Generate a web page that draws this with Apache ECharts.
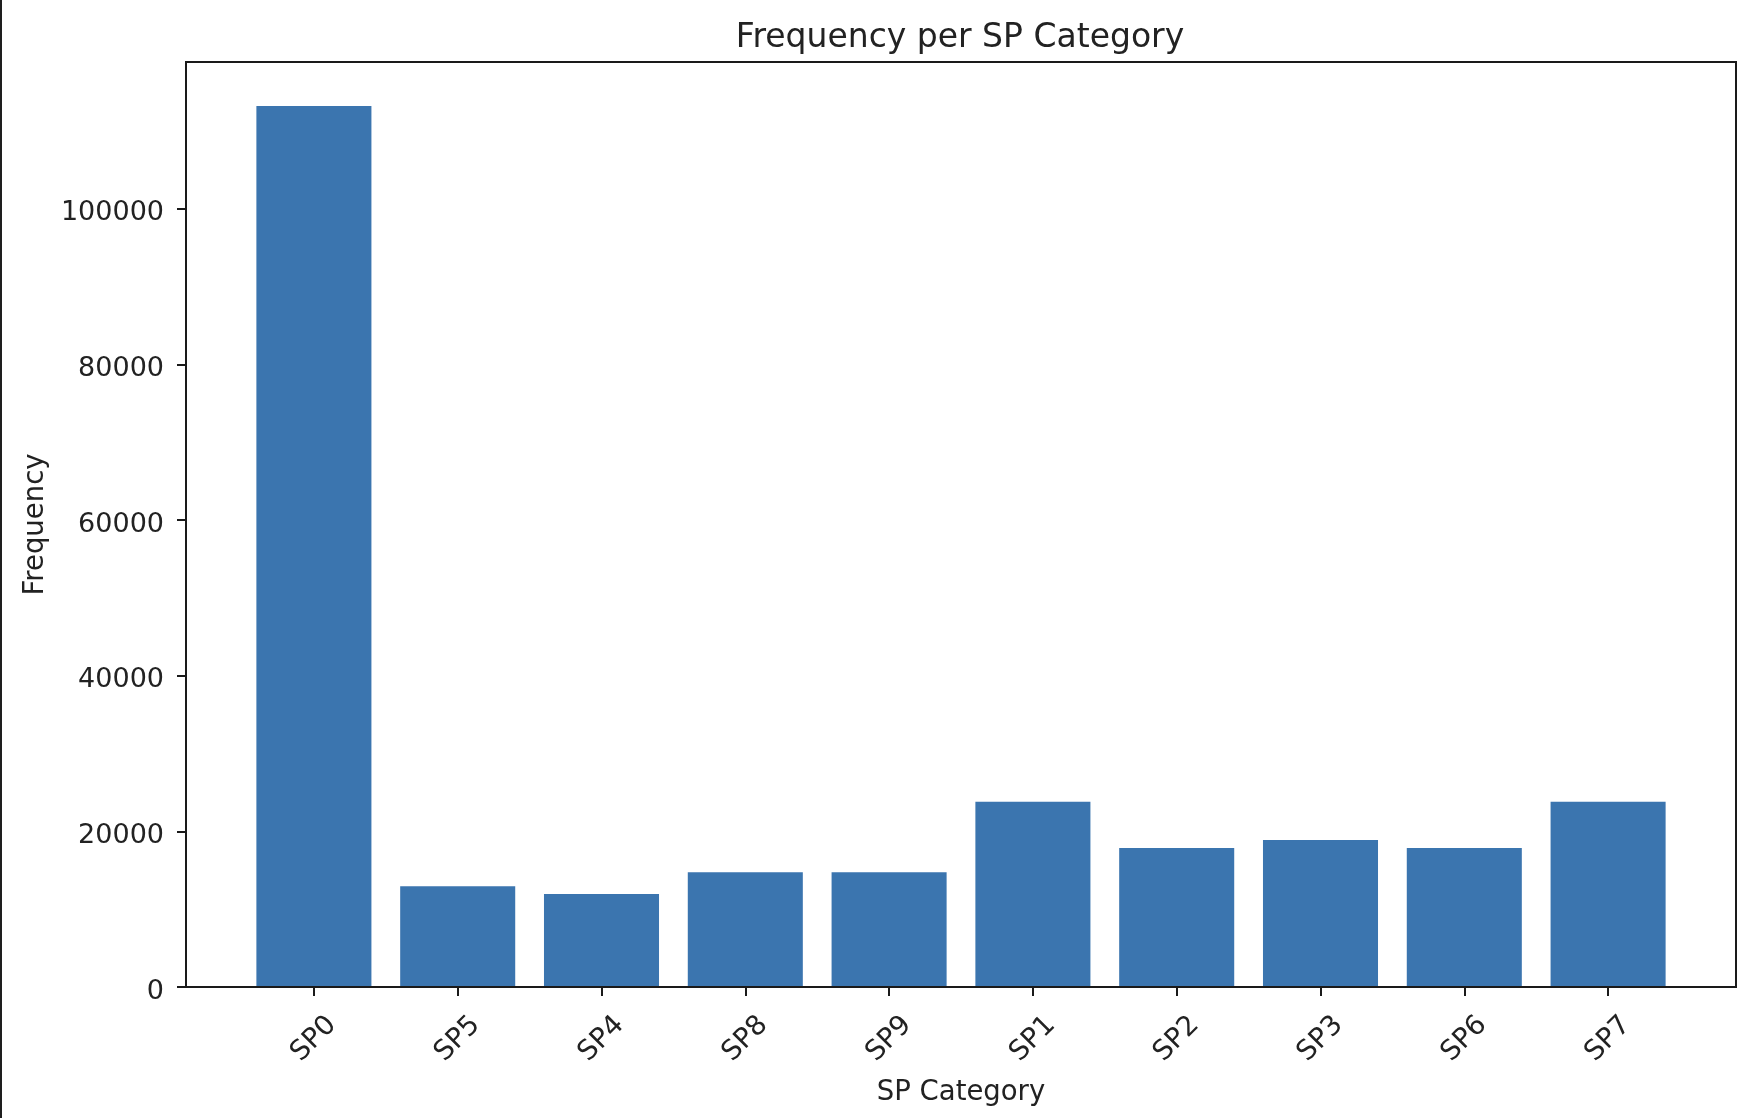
<!DOCTYPE html>
<html>
<head>
<meta charset="utf-8">
<script src="https://cdn.jsdelivr.net/npm/echarts@6/dist/echarts.min.js"></script>
<style>
  html, body { margin: 0; padding: 0; background: #fff; }
  #chart { width: 1748px; height: 1118px; box-sizing: border-box; border-left: 2px solid #1e1e1e; }
</style>
</head>
<body>
<div id="chart"></div>
<script>
// ---- data ----
var categories = ['SP0', 'SP5', 'SP4', 'SP8', 'SP9', 'SP1', 'SP2', 'SP3', 'SP6', 'SP7'];
var frequencies = [113200, 12950, 11950, 14750, 14750, 23800, 17870, 18900, 17870, 23800];
var yTickValues = [0, 20000, 40000, 60000, 80000, 100000];
var titleText = 'Frequency per SP Category';
var xAxisTitle = 'SP Category';
var yAxisTitle = 'Frequency';

// ---- layout (matplotlib-like axes box) ----
var W = 1748, H = 1118;
var frame = { left: 186, right: 12, top: 62, bottom: 131 };
var n = categories.length;
var plotW = W - 2 - frame.left - frame.right;
// matplotlib: bars of width 0.8, 5% margins -> x-limits span (n - 1 + 0.8) * 1.1 units
var unitsSpan = (n - 1 + 0.8) * 1.1;
var unitPx = plotW / unitsSpan;
var sidePad = (unitsSpan - n) / 2 * unitPx;
var yMax = Math.max.apply(null, frequencies) * 1.05;

var textColor = '#222';
var font = 'DejaVu Sans';

var chart = echarts.init(document.getElementById('chart'), null, { renderer: 'canvas' });
chart.setOption({
  animation: false,
  backgroundColor: '#fff',
  title: {
    text: titleText,
    left: frame.left + plotW / 2 - 2,
    textAlign: 'center',
    top: 22,
    padding: 0,
    textStyle: { fontFamily: font, fontSize: 33, fontWeight: 'normal', color: textColor }
  },
  grid: [
    { left: frame.left + sidePad - 2, right: frame.right + sidePad, top: frame.top, bottom: frame.bottom, containLabel: false },
    { left: frame.left - 2, right: frame.right, top: frame.top, bottom: frame.bottom, show: true, borderColor: '#1a1a1a', borderWidth: 2, backgroundColor: 'transparent', z: 5 }
  ],
  xAxis: [
    {
      type: 'category',
      gridIndex: 0,
      data: categories,
      axisLine: { show: false },
      axisTick: { show: true, alignWithLabel: true, length: 9, lineStyle: { color: '#1a1a1a', width: 2 } },
      axisLabel: {
        rotate: 45, align: 'center', verticalAlign: 'middle', margin: 52,
        fontFamily: font, fontSize: 27.5, color: textColor
      },
      name: xAxisTitle,
      nameLocation: 'middle',
      nameGap: 92,
      nameTextStyle: { fontFamily: font, fontSize: 27.5, color: textColor },
      splitLine: { show: false }
    },
    { type: 'value', gridIndex: 1, show: false }
  ],
  yAxis: [
    {
      type: 'value',
      gridIndex: 0,
      min: 0,
      max: yMax,
      offset: sidePad,
      axisLine: { show: false },
      axisTick: { show: true, customValues: yTickValues, length: 9, lineStyle: { color: '#1a1a1a', width: 2 } },
      axisLabel: {
        customValues: yTickValues, margin: 22,
        formatter: function (v) { return '{t|' + String(v) + '}'; },
        rich: {
          t: { fontFamily: font, fontSize: 27, color: textColor, padding: [9, 0, 0, 0] }
        },
        fontFamily: font, fontSize: 27, color: textColor
      },
      splitLine: { show: false },
      name: yAxisTitle,
      nameLocation: 'middle',
      nameGap: 124,
      nameTextStyle: { fontFamily: font, fontSize: 27.5, color: textColor }
    },
    { type: 'value', gridIndex: 1, show: false }
  ],
  series: [
    {
      type: 'bar',
      xAxisIndex: 0,
      yAxisIndex: 0,
      data: frequencies,
      barWidth: '80%',
      itemStyle: { color: '#3b75af' },
      emphasis: { disabled: true }
    }
  ]
});
</script>
</body>
</html>
